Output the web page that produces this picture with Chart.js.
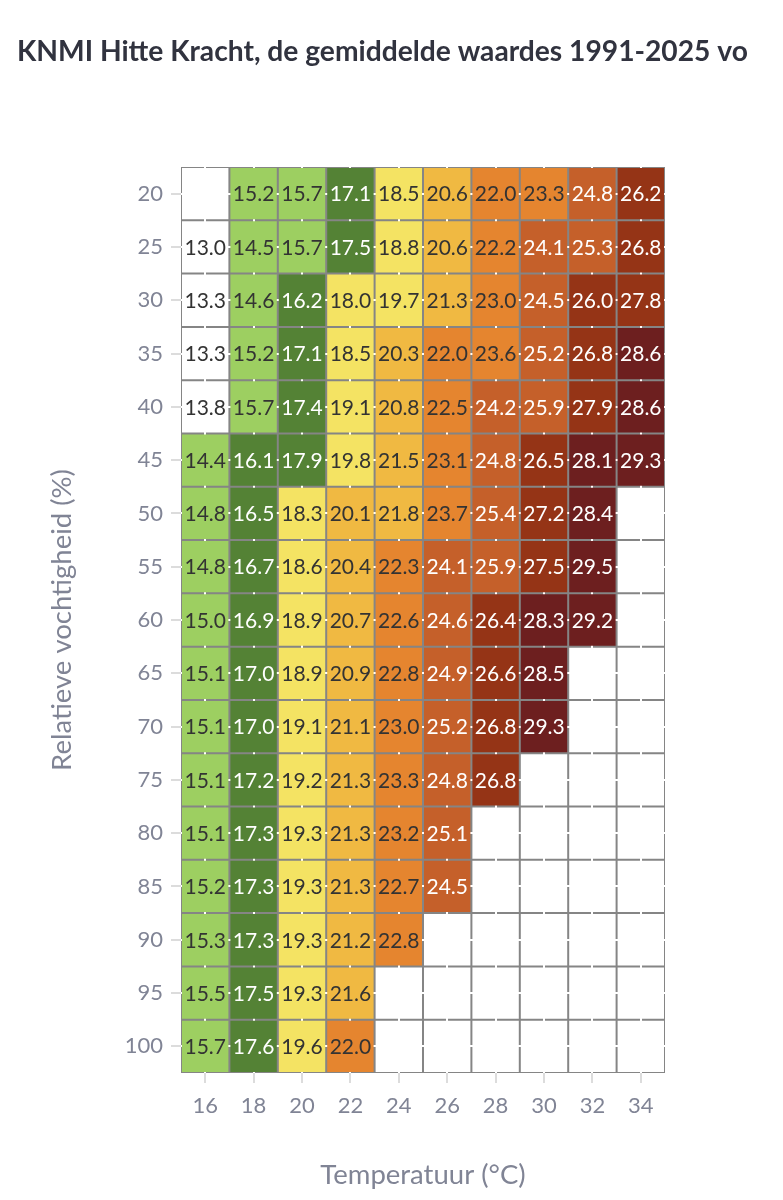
<!DOCTYPE html>
<html>
<head>
<meta charset="utf-8">
<script src="https://cdn.jsdelivr.net/npm/chart.js@4.4.1/dist/chart.umd.min.js"></script>
<style>
  html, body { margin: 0; padding: 0; background: #ffffff; }
  #wrap { position: relative; width: 783px; height: 1200px; }
</style>
</head>
<body>
<div id="wrap"><canvas id="c"></canvas></div>
<script>
// ---- data ----
const titleText = 'KNMI Hitte Kracht, de gemiddelde waardes 1991-2025 vo';
const xTitle = 'Temperatuur (°C)';
const yTitle = 'Relatieve vochtigheid (%)';

const temperatures = [16, 18, 20, 22, 24, 26, 28, 30, 32, 34];
const humidities = [20, 25, 30, 35, 40, 45, 50, 55, 60, 65, 70, 75, 80, 85, 90, 95, 100];

const rh20  = [null, 15.2, 15.7, 17.1, 18.5, 20.6, 22.0, 23.3, 24.8, 26.2];
const rh25  = [13.0, 14.5, 15.7, 17.5, 18.8, 20.6, 22.2, 24.1, 25.3, 26.8];
const rh30  = [13.3, 14.6, 16.2, 18.0, 19.7, 21.3, 23.0, 24.5, 26.0, 27.8];
const rh35  = [13.3, 15.2, 17.1, 18.5, 20.3, 22.0, 23.6, 25.2, 26.8, 28.6];
const rh40  = [13.8, 15.7, 17.4, 19.1, 20.8, 22.5, 24.2, 25.9, 27.9, 28.6];
const rh45  = [14.4, 16.1, 17.9, 19.8, 21.5, 23.1, 24.8, 26.5, 28.1, 29.3];
const rh50  = [14.8, 16.5, 18.3, 20.1, 21.8, 23.7, 25.4, 27.2, 28.4, null];
const rh55  = [14.8, 16.7, 18.6, 20.4, 22.3, 24.1, 25.9, 27.5, 29.5, null];
const rh60  = [15.0, 16.9, 18.9, 20.7, 22.6, 24.6, 26.4, 28.3, 29.2, null];
const rh65  = [15.1, 17.0, 18.9, 20.9, 22.8, 24.9, 26.6, 28.5, null, null];
const rh70  = [15.1, 17.0, 19.1, 21.1, 23.0, 25.2, 26.8, 29.3, null, null];
const rh75  = [15.1, 17.2, 19.2, 21.3, 23.3, 24.8, 26.8, null, null, null];
const rh80  = [15.1, 17.3, 19.3, 21.3, 23.2, 25.1, null, null, null, null];
const rh85  = [15.2, 17.3, 19.3, 21.3, 22.7, 24.5, null, null, null, null];
const rh90  = [15.3, 17.3, 19.3, 21.2, 22.8, null, null, null, null, null];
const rh95  = [15.5, 17.5, 19.3, 21.6, null, null, null, null, null, null];
const rh100 = [15.7, 17.6, 19.6, 22.0, null, null, null, null, null, null];
const rows = [rh20, rh25, rh30, rh35, rh40, rh45, rh50, rh55, rh60, rh65, rh70, rh75, rh80, rh85, rh90, rh95, rh100];

// class boundaries of the colour bands
const bandEdges = [14, 16, 18, 20, 22, 24, 26, 28];

// ---- styles ----
const FONT = 'Lato, "Source Sans Pro", "Noto Sans", sans-serif';
const bandColors = ['#9dcf61', '#548235', '#f4e363', '#f0b942', '#e5852f', '#c5602a', '#953416', '#6d1f1f'];
const bandText   = ['#333333', '#ffffff', '#333333', '#333333', '#333333', '#ffffff', '#ffffff', '#ffffff'];

function band(v) {
  if (v === null || v === undefined || v < bandEdges[0]) return -1;
  let b = 0;
  for (let i = 0; i < bandEdges.length; i++) if (v >= bandEdges[i]) b = i;
  return b;
}
const cellColor = v => { const b = band(v); return b < 0 ? '#ffffff' : bandColors[b]; };
const textColor = v => { const b = band(v); return b < 0 ? '#333333' : bandText[b]; };

const halfStep = (humidities[1] - humidities[0]) / 2;

const datasets = humidities.map((h, r) => ({
  label: 'RH ' + h,
  values: rows[r],
  data: temperatures.map(() => [h - halfStep, h + halfStep]),
  backgroundColor: rows[r].map(cellColor),
  borderColor: 'rgba(0,0,0,0)',
  borderWidth: 1,
  borderSkipped: false,
  inflateAmount: 0,
  grouped: false,
  barPercentage: 1,
  categoryPercentage: 1
}));

const plotBackground = {
  id: 'plotBackground',
  beforeDraw(chart) {
    const {ctx, chartArea: a} = chart;
    ctx.save();
    ctx.fillStyle = '#858585';
    ctx.fillRect(a.left, a.top, a.right - a.left, a.bottom - a.top);
    ctx.restore();
  }
};

const cellLabels = {
  id: 'cellLabels',
  afterDatasetsDraw(chart) {
    const ctx = chart.ctx;
    ctx.save();
    ctx.font = '21px ' + FONT;
    ctx.textAlign = 'center';
    ctx.textBaseline = 'middle';
    chart.data.datasets.forEach((ds, di) => {
      const meta = chart.getDatasetMeta(di);
      meta.data.forEach((el, i) => {
        const v = ds.values[i];
        if (v === null) return;
        const p = el.getCenterPoint();
        ctx.fillStyle = textColor(v);
        ctx.fillText(v.toFixed(1), p.x, p.y + 1);
      });
    });
    ctx.restore();
  }
};

const pageTitle = {
  id: 'pageTitle',
  afterDraw(chart) {
    const ctx = chart.ctx;
    ctx.save();
    let size = 23;
    ctx.font = 'bold ' + size + 'px ' + FONT;
    const w = ctx.measureText(titleText).width;
    size = size * 731 / w;
    ctx.font = 'bold ' + size.toFixed(2) + 'px ' + FONT;
    ctx.fillStyle = '#31333f';
    ctx.textAlign = 'left';
    ctx.textBaseline = 'alphabetic';
    ctx.fillText(titleText, 17, 61);
    ctx.restore();
  }
};

new Chart(document.getElementById('c'), {
  type: 'bar',
  data: { labels: temperatures, datasets },
  plugins: [plotBackground, cellLabels, pageTitle],
  options: {
    responsive: true,
    maintainAspectRatio: false,
    animation: false,
    events: [],
    layout: { padding: { top: 167, left: 17, right: 118, bottom: 0 } },
    plugins: { legend: { display: false }, tooltip: { enabled: false }, title: { display: false } },
    scales: {
      x: {
        type: 'category',
        offset: true,
        afterFit(scale) { scale.height = 127; },
        grid: { offset: false, color: '#ffffff', lineWidth: 2, drawTicks: true, tickLength: 10, tickColor: '#dcdcdc', tickWidth: 2 },
        border: { display: false },
        ticks: { color: '#808495', font: { family: FONT, size: 22 }, padding: 10, maxRotation: 0 },
        title: { display: true, text: xTitle, color: '#808495', font: { family: FONT, size: 27.5 }, padding: { top: 0, bottom: 8.5 } }
      },
      y: {
        type: 'linear',
        reverse: true,
        min: humidities[0] - halfStep,
        max: humidities[humidities.length - 1] + halfStep,
        afterBuildTicks(scale) { scale.ticks = humidities.map(v => ({ value: v })); },
        afterFit(scale) { scale.width = 164; },
        grid: { color: '#ffffff', lineWidth: 2, drawTicks: true, tickLength: 10, tickColor: '#dcdcdc', tickWidth: 2 },
        border: { display: false },
        ticks: { color: '#808495', font: { family: FONT, size: 22 }, padding: 8, callback: v => String(v) },
        title: { display: true, text: yTitle, color: '#808495', font: { family: FONT, size: 27.5 }, padding: { top: 28.5, bottom: 0 } }
      }
    }
  }
});
</script>
</body>
</html>
